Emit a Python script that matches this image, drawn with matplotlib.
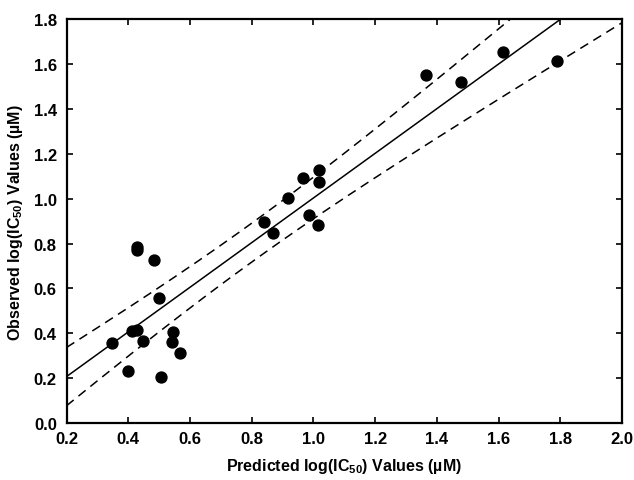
"""Observed vs predicted log(IC50) with regression line and confidence band."""

import matplotlib
matplotlib.use("Agg")
import matplotlib.pyplot as plt
import numpy as np

# predicted / observed log(IC50)
predicted = [0.348, 0.398, 0.411, 0.427, 0.429, 0.429, 0.447, 0.483, 0.500,
             0.505, 0.543, 0.546, 0.568, 0.840, 0.870, 0.917, 0.965, 0.987,
             1.014, 1.019, 1.019, 1.364, 1.478, 1.614, 1.789]
observed = [0.356, 0.232, 0.412, 0.415, 0.785, 0.770, 0.367, 0.726, 0.559,
            0.207, 0.360, 0.404, 0.313, 0.896, 0.847, 1.004, 1.092, 0.926,
            0.881, 1.126, 1.074, 1.551, 1.521, 1.656, 1.612]

# fitted line and band parameters as seen in the plot
FIT_INTERCEPT = 0.008
FIT_SLOPE = 0.995
BAND_XMEAN = 0.796
BAND_A = 0.0075      # variance term at the mean
BAND_B = 0.0264      # growth with (x - mean)^2

plt.rcParams["font.family"] = ["Liberation Sans", "DejaVu Sans"]
plt.rcParams["font.weight"] = "bold"
plt.rcParams["mathtext.fontset"] = "custom"
plt.rcParams["mathtext.bf"] = "Liberation Sans:bold"
plt.rcParams["mathtext.rm"] = "Liberation Sans:bold"

fig = plt.figure(figsize=(6.34, 4.81), dpi=100)
ax = fig.add_axes([0.105, 0.1185, 0.876, 0.8395])

xs = np.linspace(0.2, 2.0, 200)
fit = FIT_INTERCEPT + FIT_SLOPE * xs
hw = np.sqrt(BAND_A + BAND_B * (xs - BAND_XMEAN) ** 2)

ax.plot(xs, fit, color="black", lw=1.1, zorder=2)
ax.plot(xs, fit + hw, color="black", lw=1.1, ls=(0, (6, 4)), zorder=2)
ax.plot(xs, fit - hw, color="black", lw=1.1, ls=(0, (6, 4)), zorder=2)
ax.scatter(predicted, observed, s=62, color="black", zorder=3)

ax.set_xlim(0.2, 2.0)
ax.set_ylim(0.0, 1.8)
ax.set_xticks(np.arange(0.2, 2.01, 0.2))
ax.set_yticks(np.arange(0.0, 1.81, 0.2))
ax.xaxis.set_major_formatter(matplotlib.ticker.FormatStrFormatter("%.1f"))
ax.yaxis.set_major_formatter(matplotlib.ticker.FormatStrFormatter("%.1f"))
ax.tick_params(direction="in", length=4, width=1.2, top=True, right=True,
               labelsize=12)
ax.tick_params(axis="x", pad=6)
ax.tick_params(axis="y", pad=7)
for sp in ax.spines.values():
    sp.set_linewidth(1.6)

ax.set_xlabel(r"Predicted log(IC$_{\mathrm{50}}$) Values (µM)", fontsize=11.5,
              fontweight="bold", labelpad=7)
ax.set_ylabel(r"Observed log(IC$_{\mathrm{50}}$) Values (µM)", fontsize=11.5,
              fontweight="bold", labelpad=6)

fig.savefig("out.png", dpi=100)
